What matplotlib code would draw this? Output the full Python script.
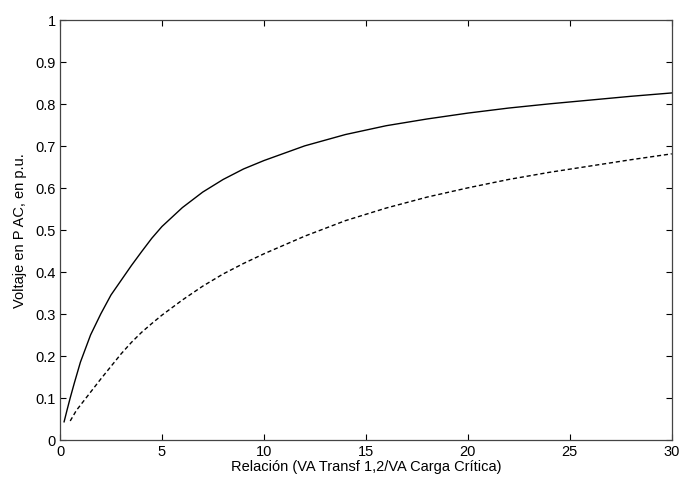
import numpy as np
import matplotlib.pyplot as plt

plt.rcParams['font.family'] = ['Liberation Sans', 'DejaVu Sans']

# Curva continua
x_solid = [0.2, 0.35, 0.5, 0.7, 1, 1.5, 2, 2.5, 3, 3.5, 4, 4.5, 5, 6, 7, 8, 9, 10,
           12, 14, 16, 18, 20, 22, 24, 26, 28, 30]
y_solid = [0.043, 0.072, 0.10, 0.135, 0.185, 0.25, 0.30, 0.345, 0.38, 0.415, 0.448, 0.48,
           0.508, 0.553, 0.59, 0.62, 0.645, 0.665,
           0.70, 0.727, 0.748, 0.764, 0.778, 0.79, 0.80, 0.809, 0.818, 0.826]

# Curva discontinua
x_dash = [0.5, 0.8, 1.2, 1.6, 2, 2.5, 3, 3.5, 4, 4.5, 5, 6, 7, 8, 9, 10,
          12, 14, 16, 18, 20, 22, 24, 26, 28, 30]
y_dash = [0.045, 0.07, 0.095, 0.12, 0.145, 0.175, 0.205, 0.232, 0.256, 0.277, 0.297,
          0.333, 0.366, 0.395, 0.42, 0.443,
          0.485, 0.522, 0.552, 0.578, 0.60, 0.62, 0.637, 0.652, 0.667, 0.681]

x_ticks = [0, 5, 10, 15, 20, 25, 30]
y_ticks = [0, 0.1, 0.2, 0.3, 0.4, 0.5, 0.6, 0.7, 0.8, 0.9, 1]
y_labels = ['0', '0.1', '0.2', '0.3', '0.4', '0.5', '0.6', '0.7', '0.8', '0.9', '1']

fig = plt.figure(figsize=(6.82, 4.85), dpi=100)
ax = fig.add_axes([0.088, 0.091, 0.897, 0.866])

ax.plot(x_solid, y_solid, color='black', lw=1.0)
ax.plot(x_dash, y_dash, color='black', lw=1.0, dashes=(3, 2))

ax.set_xlim(0, 30)
ax.set_ylim(0, 1)
ax.set_xticks(x_ticks)
ax.set_yticks(y_ticks)
ax.set_yticklabels(y_labels)
ax.tick_params(direction='in', top=True, right=True, length=4, width=0.8,
               labelsize=10.5, colors='black', pad=3)
for s in ax.spines.values():
    s.set_color('#444444')
    s.set_linewidth(0.9)

ax.set_xlabel('Relación (VA Transf 1,2/VA Carga Crítica)', fontsize=10.5, labelpad=1)
ax.set_ylabel('Voltaje en P AC, en p.u.', fontsize=10.5, labelpad=6)

fig.savefig('out.png', dpi=100)
